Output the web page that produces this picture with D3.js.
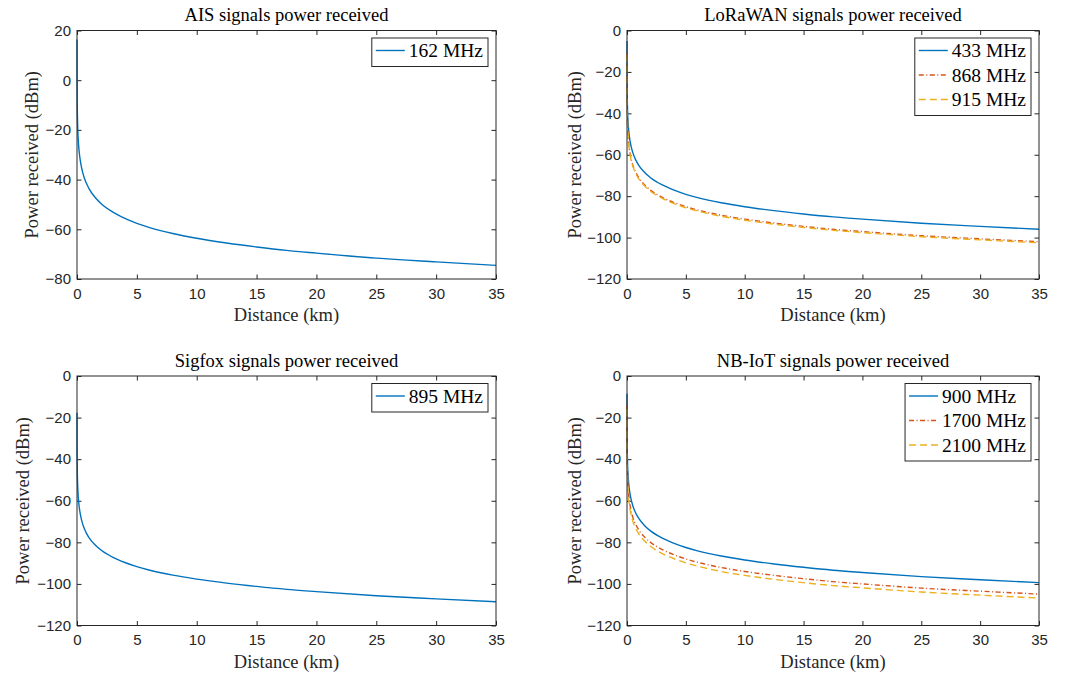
<!DOCTYPE html>
<meta charset="utf-8">
<style>
  body { margin: 0; background: #fff; }
  .tick text { font-family: "Liberation Sans", Arial, sans-serif; font-size: 15px; fill: #262626; }
  .tick line { stroke: #262626; }
  .lbl { font-family: "Liberation Serif", "DejaVu Serif", serif; font-size: 18.5px; fill: #262626; }
  .ttl { font-family: "Liberation Serif", "DejaVu Serif", serif; font-size: 18.5px; fill: #000; }
  .leg { font-family: "Liberation Serif", "DejaVu Serif", serif; font-size: 19.5px; fill: #000; }
  .line { fill: none; stroke-width: 1.4; }
</style>
<svg width="1073" height="675"></svg>
<script src="https://cdnjs.cloudflare.com/ajax/libs/d3/7.8.5/d3.min.js"></script>
<script>

// distance samples (km)
var distance = [0.001, 0.005, 0.01, 0.02, 0.05, 0.1, 0.2, 0.3, 0.5, 0.75, 1, 1.5, 2, 3, 4, 5, 6, 8, 10, 12.5, 15, 17.5, 20, 25, 30, 35];

var xTicks = [0, 5, 10, 15, 20, 25, 30, 35];
var yTicksAis = [-80, -60, -40, -20, 0, 20];
var yTicksOther = [-120, -100, -80, -60, -40, -20, 0];

// received power (dBm)
var ais162 = [16.4, 2.4, -3.6, -9.6, -17.6, -23.6, -29.6, -33.1, -37.6, -41.1, -43.6, -47.1, -49.6, -53.1, -55.6, -57.6, -59.2, -61.7, -63.6, -65.5, -67.1, -68.5, -69.6, -71.6, -73.1, -74.5];
var lora433 = [-5.1, -19.1, -25.1, -31.1, -39.1, -45.1, -51.1, -54.6, -59.1, -62.6, -65.1, -68.6, -71.1, -74.6, -77.1, -79.1, -80.7, -83.2, -85.1, -87.0, -88.6, -90.0, -91.1, -93.1, -94.6, -96.0];
var lora868 = [-11.1, -25.1, -31.1, -37.1, -45.1, -51.1, -57.1, -60.6, -65.1, -68.6, -71.1, -74.6, -77.1, -80.6, -83.1, -85.1, -86.7, -89.2, -91.1, -93.0, -94.6, -96.0, -97.1, -99.1, -100.6, -102.0];
var lora915 = [-11.6, -25.6, -31.6, -37.6, -45.6, -51.6, -57.6, -61.1, -65.6, -69.1, -71.6, -75.1, -77.6, -81.1, -83.6, -85.6, -87.2, -89.7, -91.6, -93.5, -95.1, -96.5, -97.6, -99.6, -101.1, -102.5];
var sigfox895 = [-17.7, -31.7, -37.7, -43.7, -51.7, -57.7, -63.7, -67.2, -71.7, -75.2, -77.7, -81.2, -83.7, -87.2, -89.7, -91.7, -93.3, -95.8, -97.7, -99.6, -101.2, -102.6, -103.7, -105.7, -107.2, -108.6];
var nb900 = [-8.5, -22.5, -28.5, -34.5, -42.5, -48.5, -54.5, -58.0, -62.5, -66.0, -68.5, -72.0, -74.5, -78.0, -80.5, -82.5, -84.1, -86.6, -88.5, -90.4, -92.0, -93.4, -94.5, -96.5, -98.0, -99.4];
var nb1700 = [-14.0, -28.0, -34.0, -40.0, -48.0, -54.0, -60.0, -63.5, -68.0, -71.5, -74.0, -77.5, -80.0, -83.5, -86.0, -88.0, -89.6, -92.1, -94.0, -95.9, -97.5, -98.9, -100.0, -102.0, -103.5, -104.9];
var nb2100 = [-15.9, -29.9, -35.9, -41.9, -49.9, -55.9, -61.9, -65.4, -69.9, -73.4, -75.9, -79.4, -81.9, -85.4, -87.9, -89.9, -91.5, -94.0, -95.9, -97.8, -99.4, -100.8, -101.9, -103.9, -105.4, -106.8];

var blue = "#0072BD", orange = "#D95319", yellow = "#EDB120";
var dashDot = "5,2.5,1,2.5", dashed = "7,4";

var panels = [
  {title: "AIS signals power received", box: [77, 30.5, 496, 279], yDomain: [-80, 20], yTicks: yTicksAis, ylabX: -39,
   series: [{name: "162 MHz", values: ais162, color: blue, dash: null}]},
  {title: "LoRaWAN signals power received", box: [627, 30.5, 1039, 279], yDomain: [-120, 0], yTicks: yTicksOther, ylabX: -46,
   series: [{name: "433 MHz", values: lora433, color: blue, dash: null},
            {name: "868 MHz", values: lora868, color: orange, dash: dashDot},
            {name: "915 MHz", values: lora915, color: yellow, dash: dashed}]},
  {title: "Sigfox signals power received", box: [77, 376, 496, 625.5], yDomain: [-120, 0], yTicks: yTicksOther, ylabX: -48,
   series: [{name: "895 MHz", values: sigfox895, color: blue, dash: null}]},
  {title: "NB-IoT signals power received", box: [627, 376, 1039, 625.5], yDomain: [-120, 0], yTicks: yTicksOther, ylabX: -46,
   series: [{name: "900 MHz", values: nb900, color: blue, dash: null},
            {name: "1700 MHz", values: nb1700, color: orange, dash: dashDot},
            {name: "2100 MHz", values: nb2100, color: yellow, dash: dashed}]}
];

var svg = d3.select("svg");

panels.forEach(function(p) {
  var x0 = p.box[0], y0 = p.box[1], w = p.box[2] - p.box[0], h = p.box[3] - p.box[1];
  var g = svg.append("g").attr("transform", "translate(" + x0 + "," + y0 + ")");

  var x = d3.scaleLinear().domain([0, 35]).range([0, w]);
  var y = d3.scaleLinear().domain(p.yDomain).range([h, 0]);

  // axes with inward ticks, MATLAB box style
  g.append("g").attr("transform", "translate(0," + h + ")")
    .call(d3.axisBottom(x).tickValues(xTicks).tickSizeInner(-4.5).tickSizeOuter(0).tickPadding(9))
    .call(function(a) { a.select(".domain").remove(); });
  g.append("g")
    .call(d3.axisTop(x).tickValues(xTicks).tickSizeInner(-4.5).tickSizeOuter(0).tickFormat(""))
    .call(function(a) { a.select(".domain").remove(); });
  g.append("g")
    .call(d3.axisLeft(y).tickValues(p.yTicks).tickSizeInner(-4.5).tickSizeOuter(0).tickPadding(6))
    .call(function(a) { a.select(".domain").remove(); });
  g.append("g").attr("transform", "translate(" + w + ",0)")
    .call(d3.axisRight(y).tickValues(p.yTicks).tickSizeInner(-4.5).tickSizeOuter(0).tickFormat(""))
    .call(function(a) { a.select(".domain").remove(); });

  var line = d3.line()
    .x(function(d, i) { return x(distance[i]); })
    .y(function(d) { return y(d); })
    .curve(d3.curveMonotoneX);

  p.series.forEach(function(s) {
    g.append("path")
      .datum(s.values)
      .attr("class", "line")
      .attr("stroke", s.color)
      .attr("stroke-dasharray", s.dash)
      .attr("d", line);
  });

  g.append("rect")
    .attr("width", w).attr("height", h)
    .attr("fill", "none").attr("stroke", "#262626").attr("stroke-width", 1);

  g.append("text").attr("class", "ttl")
    .attr("x", w / 2).attr("y", -9.5)
    .attr("text-anchor", "middle").text(p.title);

  g.append("text").attr("class", "lbl")
    .attr("x", w / 2).attr("y", h + 42)
    .attr("text-anchor", "middle").text("Distance (km)");

  g.append("text").attr("class", "lbl")
    .attr("transform", "translate(" + p.ylabX + "," + (h / 2) + ") rotate(-90)")
    .attr("text-anchor", "middle").text("Power received (dBm)");

  // legend, top-right corner
  var leg = g.append("g");
  var texts = [];
  p.series.forEach(function(s, i) {
    var t = leg.append("text").attr("class", "leg")
      .attr("x", 37).attr("y", 12.5 + i * 24.5).attr("dy", "0.35em").text(s.name);
    texts.push(t.node().getComputedTextLength());
    leg.append("line")
      .attr("x1", 4).attr("x2", 33)
      .attr("y1", 12.5 + i * 24.5).attr("y2", 12.5 + i * 24.5)
      .attr("stroke", s.color).attr("stroke-width", 1.4)
      .attr("stroke-dasharray", s.dash);
  });
  var lw = 37 + d3.max(texts) + 5, lh = p.series.length * 24.5 + 4;
  leg.insert("rect", ":first-child")
    .attr("width", lw).attr("height", lh)
    .attr("fill", "#fff").attr("stroke", "#262626").attr("stroke-width", 1);
  leg.attr("transform", "translate(" + (w - 8 - lw) + ",7.5)");
});

</script>
